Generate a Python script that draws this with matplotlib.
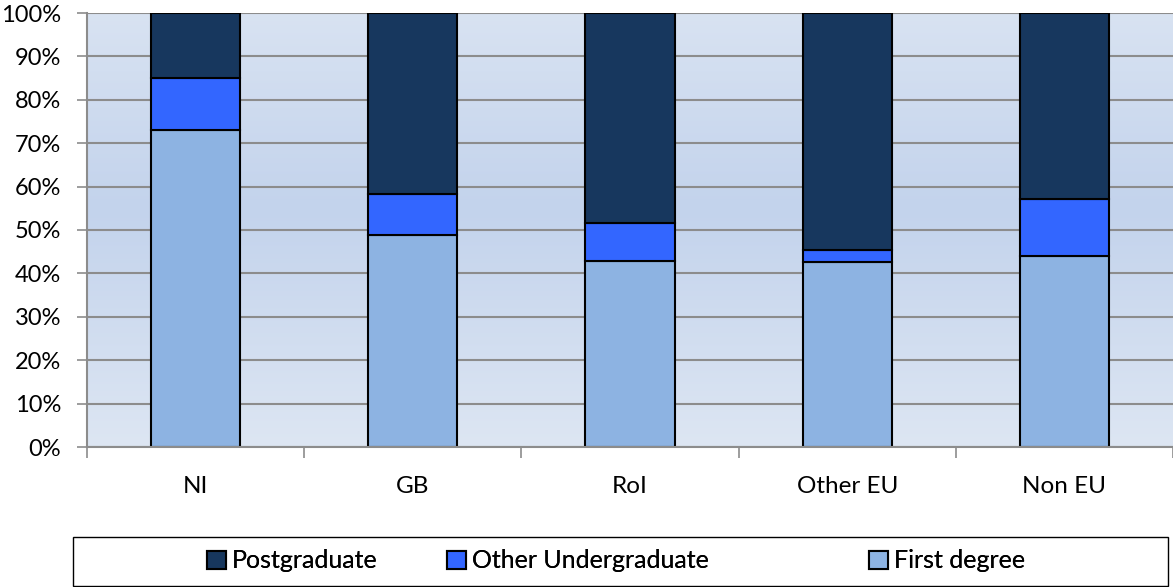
import numpy as np
import matplotlib.pyplot as plt
from matplotlib.patches import Rectangle

# data (percent of students)
regions = ['NI', 'GB', 'RoI', 'Other EU', 'Non EU']
first_degree = [73.0, 48.8, 42.9, 42.6, 44.0]
other_ug = [12.0, 9.5, 8.7, 2.8, 13.1]
postgrad = [15.0, 41.7, 48.4, 54.6, 42.9]

col_first = '#8db3e2'
col_other = '#3366ff'
col_pg = '#17375e'
grid_col = '#8c8c8c'

plt.rcParams['font.family'] = ['Lato', 'DejaVu Sans']

fig = plt.figure(figsize=(11.73, 5.87), dpi=100)
ax = fig.add_axes([87 / 1173, 1 - 447 / 587, 1086 / 1173, 434 / 587])

# background gradient: light at top/bottom, slightly darker in the middle
t = np.linspace(0, 1, 256)
shade = np.abs(t - 0.55) / 0.55
c_light = np.array([0xdd, 0xe6, 0xf3]) / 255
c_dark = np.array([0xc3, 0xd3, 0xec]) / 255
grad = c_dark[None, :] + (c_light - c_dark)[None, :] * shade[:, None]
ax.imshow(grad[:, None, :], extent=[0, 1, 0, 1], transform=ax.transAxes,
          aspect='auto', zorder=0, origin='lower')

x = np.arange(len(regions))
w = 0.41
first = np.array(first_degree)
other = np.array(other_ug)
pg = np.array(postgrad)

ax.bar(x, first, w, color=col_first, edgecolor='black', linewidth=1.5,
       zorder=3, label='First degree')
ax.bar(x, other, w, bottom=first, color=col_other, edgecolor='black',
       linewidth=1.5, zorder=3, label='Other Undergraduate')
ax.bar(x, pg, w, bottom=first + other, color=col_pg, edgecolor='black',
       linewidth=1.5, zorder=3, label='Postgraduate')

ax.set_xlim(-0.5, len(regions) - 0.5)
ax.set_ylim(0, 100)
ax.set_yticks(range(0, 101, 10))
ax.set_yticklabels([f'{v}%' for v in range(0, 101, 10)], fontsize=17)
ax.yaxis.grid(True, color=grid_col, linewidth=1.5, zorder=1)
ax.set_axisbelow(True)

ax.set_xticks(x)
ax.set_xticklabels(regions, fontsize=17.5)
ax.set_xticks(np.arange(-0.5, len(regions) - 0.4, 1), minor=True)
ax.tick_params(axis='x', which='major', length=0, pad=21)
ax.tick_params(axis='x', which='minor', length=8, color=grid_col, width=1.2)
ax.tick_params(axis='y', length=7.5, color=grid_col, width=1.2, pad=11)

for s in ['top', 'right']:
    ax.spines[s].set_visible(False)
for s in ['left', 'bottom']:
    ax.spines[s].set_color(grid_col)
    ax.spines[s].set_linewidth(1.5)
    ax.spines[s].set_zorder(4)

# legend box below the chart, one entry per legend to match the spacing
fig.patches.append(Rectangle((73 / 1173, 1 - 586 / 587), 1095 / 1173, 49 / 587,
                             transform=fig.transFigure, facecolor='white',
                             edgecolor='black', linewidth=1.0))
handles, labels = ax.get_legend_handles_labels()
entry_x = [207, 447, 869]
for h, lab, px in zip(handles[::-1], labels[::-1], entry_x):
    leg = fig.legend([h], [lab], loc='center left',
                     bbox_to_anchor=(px / 1173, 1 - 561 / 587),
                     fontsize=18, frameon=False, handlelength=0.75,
                     handleheight=0.75, handletextpad=0.25, borderpad=0,
                     borderaxespad=0)
    fig.add_artist(leg)

fig.savefig('out.png', dpi=100)
